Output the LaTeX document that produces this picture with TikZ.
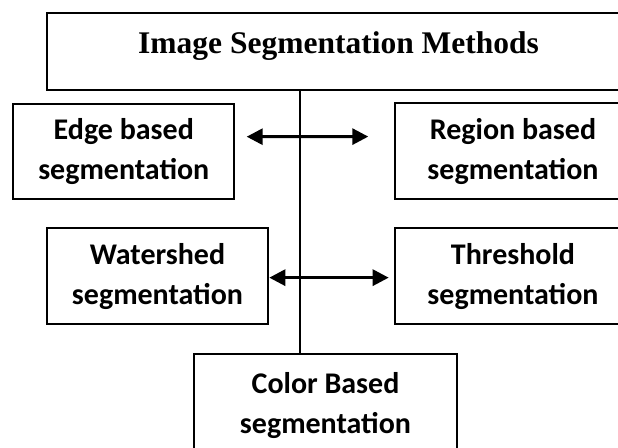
\documentclass[tikz,border=0pt]{standalone}
\usepackage{fontspec}
\setmainfont{Liberation Serif}
\newfontfamily\calibri{Carlito}
\usetikzlibrary{arrows.meta}
\tikzset{box/.style = {draw, line width = 2pt, inner sep = 0, align = center,
                       font = \calibri\bfseries\fontsize{30}{40}\selectfont}}
\tikzset{biarrow/.style = {line width = 3pt,
                           {Triangle[length=16pt, width=16pt]}-{Triangle[length=16pt, width=16pt]}}}

\begin{document}
\begin{tikzpicture}[x = 1pt, y = -1pt]
    \useasboundingbox (0, 0) rectangle (618, 447);
    \node [box, minimum width = 584, minimum height = 77.3, text height = 20, text depth = 16.6,
           font = \bfseries\fontsize{31.5}{36}\selectfont] (title) at (338.6, 51.3) {Image Segmentation Methods};
    \node [box, minimum width = 221, minimum height = 95.8] (edge) at (123.8, 151.4) {Edge based\\segmentation};
    \node [box, minimum width = 236, minimum height = 96] (region) at (513, 151.3) {Region based\\segmentation};
    \node [box, minimum width = 221.6, minimum height = 95.7] (water) at (157.5, 276.15) {Watershed\\segmentation};
    \node [box, minimum width = 236, minimum height = 95.7] (thresh) at (513, 276.15) {Threshold\\segmentation};
    \node [box, minimum width = 262.4, minimum height = 102.4] (color) at (325.5, 405.5) {Color Based\\segmentation};
    % trunk from title down to the last box
    \draw [line width = 2.3pt] ([xshift = -25.2pt]color.north) -- ([xshift = -25.2pt]color.north |- title.south);
    \draw [biarrow] ([shift = {(11.4, -14.7)}]edge.east) -- ([shift = {(-25.7, -14.7)}]region.west);
    \draw [biarrow] ([shift = {(0, 1.5)}]water.east) -- ([shift = {(-5.3, 1.5)}]thresh.west);
\end{tikzpicture}
\end{document}
